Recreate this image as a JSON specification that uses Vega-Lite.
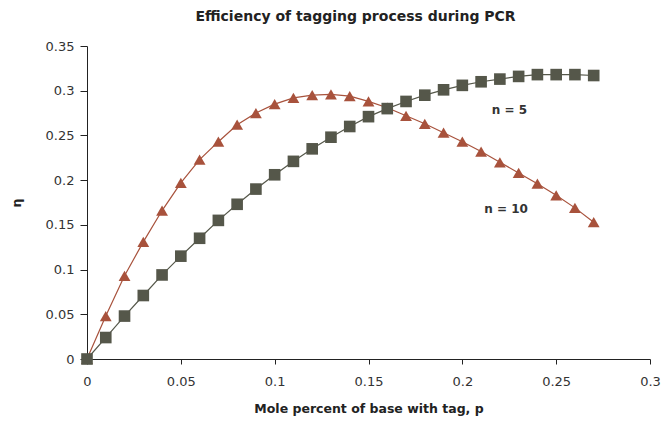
{
  "$schema": "https://vega.github.io/schema/vega-lite/v6.json",
  "width": 563,
  "height": 313,
  "autosize": "none",
  "padding": {"left": 87, "top": 46, "right": 11, "bottom": 64},
  "background": "white",
  "title": {"text": "Efficiency of tagging process during PCR", "fontSize": 14, "font": "DejaVu Sans", "fontWeight": "bold", "color": "#222", "offset": 16, "dx": -13},
  "config": {
    "view": {"stroke": null},
    "axis": {"grid": false, "domainColor": "#222", "tickColor": "#222", "labelFont": "DejaVu Sans", "labelFontSize": 13, "labelColor": "#333", "titleFont": "DejaVu Sans", "titleFontSize": 12.5, "titleFontWeight": "bold", "titleColor": "#222", "labelFlush": false}
  },
  "datasets": {
    "curves": [
      {"p": 0.00, "eta": 0.000, "series": "n = 10"},
      {"p": 0.01, "eta": 0.048, "series": "n = 10"},
      {"p": 0.02, "eta": 0.093, "series": "n = 10"},
      {"p": 0.03, "eta": 0.131, "series": "n = 10"},
      {"p": 0.04, "eta": 0.166, "series": "n = 10"},
      {"p": 0.05, "eta": 0.197, "series": "n = 10"},
      {"p": 0.06, "eta": 0.223, "series": "n = 10"},
      {"p": 0.07, "eta": 0.243, "series": "n = 10"},
      {"p": 0.08, "eta": 0.262, "series": "n = 10"},
      {"p": 0.09, "eta": 0.275, "series": "n = 10"},
      {"p": 0.10, "eta": 0.285, "series": "n = 10"},
      {"p": 0.11, "eta": 0.292, "series": "n = 10"},
      {"p": 0.12, "eta": 0.295, "series": "n = 10"},
      {"p": 0.13, "eta": 0.296, "series": "n = 10"},
      {"p": 0.14, "eta": 0.294, "series": "n = 10"},
      {"p": 0.15, "eta": 0.288, "series": "n = 10"},
      {"p": 0.16, "eta": 0.281, "series": "n = 10"},
      {"p": 0.17, "eta": 0.272, "series": "n = 10"},
      {"p": 0.18, "eta": 0.263, "series": "n = 10"},
      {"p": 0.19, "eta": 0.253, "series": "n = 10"},
      {"p": 0.20, "eta": 0.243, "series": "n = 10"},
      {"p": 0.21, "eta": 0.232, "series": "n = 10"},
      {"p": 0.22, "eta": 0.220, "series": "n = 10"},
      {"p": 0.23, "eta": 0.208, "series": "n = 10"},
      {"p": 0.24, "eta": 0.196, "series": "n = 10"},
      {"p": 0.25, "eta": 0.183, "series": "n = 10"},
      {"p": 0.26, "eta": 0.169, "series": "n = 10"},
      {"p": 0.27, "eta": 0.153, "series": "n = 10"},
      {"p": 0.00, "eta": 0.000, "series": "n = 5"},
      {"p": 0.01, "eta": 0.024, "series": "n = 5"},
      {"p": 0.02, "eta": 0.048, "series": "n = 5"},
      {"p": 0.03, "eta": 0.071, "series": "n = 5"},
      {"p": 0.04, "eta": 0.094, "series": "n = 5"},
      {"p": 0.05, "eta": 0.115, "series": "n = 5"},
      {"p": 0.06, "eta": 0.135, "series": "n = 5"},
      {"p": 0.07, "eta": 0.155, "series": "n = 5"},
      {"p": 0.08, "eta": 0.173, "series": "n = 5"},
      {"p": 0.09, "eta": 0.190, "series": "n = 5"},
      {"p": 0.10, "eta": 0.206, "series": "n = 5"},
      {"p": 0.11, "eta": 0.221, "series": "n = 5"},
      {"p": 0.12, "eta": 0.235, "series": "n = 5"},
      {"p": 0.13, "eta": 0.248, "series": "n = 5"},
      {"p": 0.14, "eta": 0.260, "series": "n = 5"},
      {"p": 0.15, "eta": 0.271, "series": "n = 5"},
      {"p": 0.16, "eta": 0.280, "series": "n = 5"},
      {"p": 0.17, "eta": 0.288, "series": "n = 5"},
      {"p": 0.18, "eta": 0.295, "series": "n = 5"},
      {"p": 0.19, "eta": 0.301, "series": "n = 5"},
      {"p": 0.20, "eta": 0.306, "series": "n = 5"},
      {"p": 0.21, "eta": 0.310, "series": "n = 5"},
      {"p": 0.22, "eta": 0.313, "series": "n = 5"},
      {"p": 0.23, "eta": 0.316, "series": "n = 5"},
      {"p": 0.24, "eta": 0.318, "series": "n = 5"},
      {"p": 0.25, "eta": 0.318, "series": "n = 5"},
      {"p": 0.26, "eta": 0.318, "series": "n = 5"},
      {"p": 0.27, "eta": 0.317, "series": "n = 5"}
    ],
    "labels": [
      {"p": 0.2251, "eta": 0.2784, "label": "n = 5"},
      {"p": 0.2233, "eta": 0.1677, "label": "n = 10"}
    ]
  },
  "layer": [
    {
      "data": {"name": "curves"},
      "mark": {"type": "line", "strokeWidth": 1.2},
      "encoding": {
        "x": {"field": "p", "type": "quantitative", "scale": {"domain": [0, 0.3], "nice": false}, "axis": {"values": [0, 0.05, 0.1, 0.15, 0.2, 0.25, 0.3], "format": "~g", "title": "Mole percent of base with tag, p", "titlePadding": 14, "labelPadding": 11, "tickSize": 5}},
        "y": {"field": "eta", "type": "quantitative", "scale": {"domain": [0, 0.35], "nice": false}, "axis": {"values": [0, 0.05, 0.1, 0.15, 0.2, 0.25, 0.3, 0.35], "format": "~g", "title": "η", "titlePadding": 22, "labelPadding": 6, "tickSize": 7}},
        "color": {"field": "series", "type": "nominal", "scale": {"domain": ["n = 10", "n = 5"], "range": ["#a8523c", "#55574a"]}, "legend": null},
        "detail": {"field": "series"}
      }
    },
    {
      "data": {"name": "curves"},
      "mark": {"type": "point", "filled": true, "opacity": 1},
      "encoding": {
        "x": {"field": "p", "type": "quantitative"},
        "y": {"field": "eta", "type": "quantitative"},
        "color": {"field": "series", "type": "nominal", "scale": {"domain": ["n = 10", "n = 5"], "range": ["#b5553d", "#4b4d3e"]}, "legend": null},
        "shape": {"field": "series", "type": "nominal", "scale": {"domain": ["n = 10", "n = 5"], "range": ["triangle-up", "square"]}, "legend": null},
        "size": {"field": "series", "type": "nominal", "scale": {"domain": ["n = 10", "n = 5"], "range": [140, 135]}, "legend": null},
        "order": {"field": "series", "sort": "ascending"}
      }
    },
    {
      "data": {"name": "labels"},
      "mark": {"type": "text", "font": "DejaVu Sans", "fontSize": 12, "fontWeight": "bold", "color": "#333"},
      "encoding": {
        "x": {"field": "p", "type": "quantitative"},
        "y": {"field": "eta", "type": "quantitative"},
        "text": {"field": "label"}
      }
    }
  ]
}
